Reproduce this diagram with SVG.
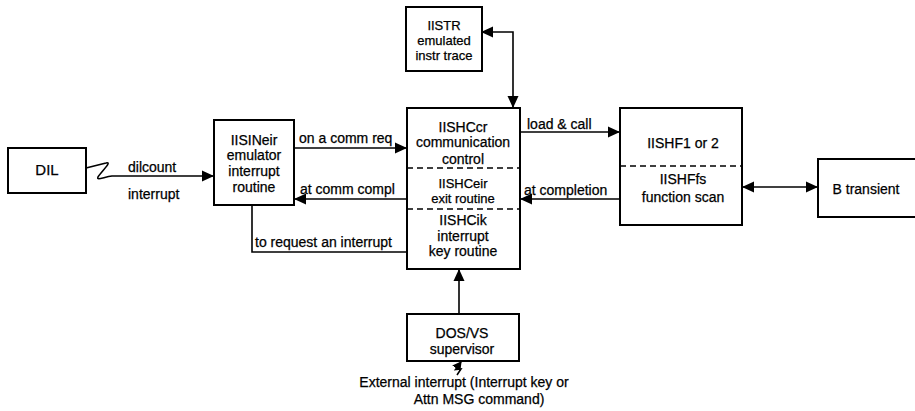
<svg xmlns="http://www.w3.org/2000/svg" width="915" height="411" viewBox="0 0 915 411">
<style>
.box{fill:#fff;stroke:#000;stroke-width:2}
.dash{stroke:#000;stroke-width:1.5;stroke-dasharray:6,4;fill:none}
.con{fill:none;stroke:#000;stroke-width:1.6}
text{font-family:"Liberation Sans",Arial,sans-serif;font-size:14px;fill:#000;text-anchor:middle;stroke:#000;stroke-width:0.25}
.s{font-size:13px}
.l{text-anchor:start}
</style>
<defs>
<marker id="ah" markerUnits="userSpaceOnUse" markerWidth="12" markerHeight="12" refX="11" refY="6" orient="auto-start-reverse" viewBox="0 0 12 12">
<path d="M0,0.5 L12,6 L0,11.5 z" fill="#000"/>
</marker>
<marker id="ahs" markerUnits="userSpaceOnUse" markerWidth="9" markerHeight="10" refX="8" refY="5" orient="auto" viewBox="0 0 9 10">
<path d="M0,0 L9,5 L0,10 z" fill="#000"/>
</marker>
</defs>
<rect width="915" height="411" fill="#fff"/>

<g id="connectors">
<path class="con" d="M86,168 L106,163 C113,161 101,172 98,177 C96,181 104,177 112,176 L213,176" marker-end="url(#ah)"/>
<path class="con" d="M294,148 L406,148" marker-end="url(#ah)"/>
<path class="con" d="M407,199 L295,199" marker-end="url(#ah)"/>
<path class="con" d="M252,205 L252,252 L407,252"/>
<path class="con" d="M482,32 L513,32 L513,107" marker-start="url(#ah)" marker-end="url(#ah)"/>
<path class="con" d="M520,132 L619,132" marker-end="url(#ah)"/>
<path class="con" d="M620,199 L521,199" marker-end="url(#ah)"/>
<path class="con" d="M743,187 L817,187" marker-start="url(#ah)" marker-end="url(#ah)"/>
<path class="con" d="M459,314 L459,270" marker-end="url(#ah)"/>
<path class="con" d="M457,375 L461,369 L455.5,369.5 L461,362" marker-end="url(#ahs)"/>
<text x="128" y="172" class="l">dilcount</text>
<text x="128" y="199" class="l">interrupt</text>
<text x="299" y="143" class="l">on a comm req</text>
<text x="300" y="194" class="l">at comm compl</text>
<text x="255" y="247" class="l">to request an interrupt</text>
<text x="527" y="129" class="l">load &amp; call</text>
<text x="524" y="195" class="l">at completion</text>
</g>

<g id="DIL">
<rect class="box" x="8" y="148" width="78" height="45"/>
<text x="47" y="175" style="font-size:15px">DIL</text>
</g>

<g id="IISINeir">
<rect class="box" x="214" y="120" width="80" height="85"/>
<text x="254" y="145">IISINeir</text>
<text x="254" y="160">emulator</text>
<text x="254" y="176">interrupt</text>
<text x="254" y="192">routine</text>
</g>

<g id="IISTR">
<rect class="box" x="406" y="7" width="76" height="64"/>
<text class="s" x="444" y="30">IISTR</text>
<text class="s" x="444" y="45">emulated</text>
<text class="s" x="444" y="60">instr trace</text>
</g>

<g id="IISHC">
<rect class="box" x="407" y="108" width="113" height="161"/>
<line class="dash" x1="407" y1="168" x2="520" y2="168"/>
<line class="dash" x1="407" y1="209" x2="520" y2="209"/>
<text x="463" y="132">IISHCcr</text>
<text x="463" y="147">communication</text>
<text x="463" y="164">control</text>
<text class="s" x="463" y="188">IISHCeir</text>
<text class="s" x="463" y="203">exit routine</text>
<text x="463" y="225">IISHCik</text>
<text x="463" y="241">interrupt</text>
<text x="463" y="256">key routine</text>
</g>

<g id="IISHF">
<rect class="box" x="620" y="108" width="122" height="117"/>
<line class="dash" x1="620" y1="166" x2="742" y2="166"/>
<text x="683" y="148">IISHF1 or 2</text>
<text x="683" y="184">IISHFfs</text>
<text x="683" y="202">function scan</text>
</g>

<g id="Btransient">
<rect class="box" x="818" y="159" width="100" height="58"/>
<text x="866" y="194">B transient</text>
</g>

<g id="DOSVS">
<rect class="box" x="407" y="314" width="112" height="47"/>
<text x="462" y="338">DOS/VS</text>
<text x="462" y="354">supervisor</text>
</g>

<g id="external">
<text x="464" y="387">External interrupt (Interrupt key or</text>
<text x="479" y="404">Attn MSG command)</text>
</g>
</svg>
